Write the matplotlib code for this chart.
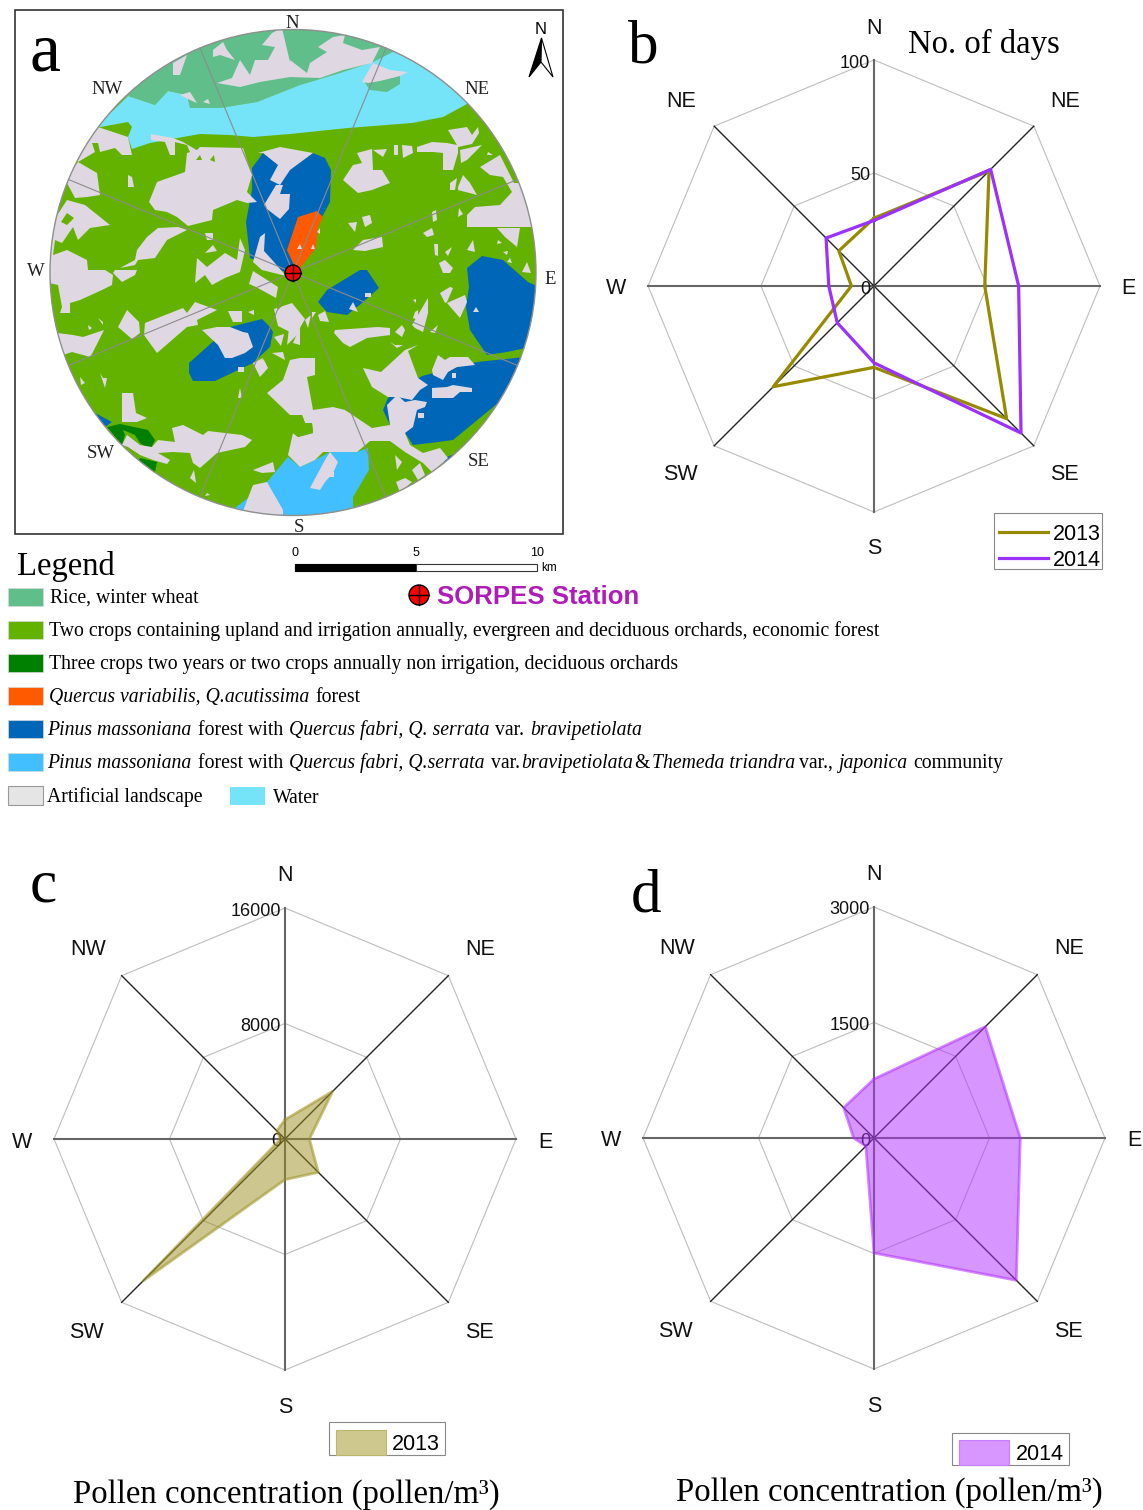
import matplotlib

matplotlib.use("Agg")
import matplotlib.pyplot as plt
import numpy as np
from matplotlib.patches import Circle, Polygon, Rectangle

W, H = 1143, 1510
SERIF = "Liberation Serif"
SANS = "Liberation Sans"

directions = ["N", "NE", "E", "SE", "S", "SW", "W", "NW"]
directions_b = ["N", "NE", "E", "SE", "S", "SW", "W", "NE"]  # the NW corner is labelled NE in the original

days_2013 = [30, 72, 49, 83, 36, 63, 10, 22]
days_2014 = [29, 73, 64, 92, 34, 23, 20, 30]
pollen_2013 = [1340, 4670, 1690, 3265, 2816, 13900, 300, 800]
pollen_2014 = [766, 2045, 1900, 2614, 1494, 150, 264, 557]

c_rice = "#60BE8B"
c_green = "#64B200"
c_dgreen = "#008000"
c_orange = "#FF5A00"
c_blue = "#0066B8"
c_lblue = "#42BFFF"
c_art = "#DFD8E2"
c_water = "#75E3F8"

# map outlines in image pixels
rice_regions = [
    [(100, 110), (128, 96), (155, 105), (168, 91), (187, 95), (190, 108), (220, 108), (257, 102), (300, 85),
     (340, 73), (373, 62), (397, 52), (400, 15), (130, 15)],
]
water_regions = [
    [(128, 96), (155, 105), (168, 91), (187, 95), (190, 108), (220, 108), (257, 102), (300, 85), (340, 73),
     (373, 62), (397, 50), (480, 95), (467, 104), (443, 117), (412, 123), (348, 128), (290, 134), (253, 137),
     (230, 135), (200, 134), (183, 137), (150, 143), (132, 149), (128, 137), (132, 127), (128, 122), (95, 128)],
]
rice_islets = [
    [(365, 83), (370, 90), (387, 92), (400, 84), (400, 72), (370, 72)],
]
blue_regions = [
    [(246, 222), (252, 190), (252, 168), (263, 153), (285, 160), (313, 153), (325, 158), (331, 170), (330, 202),
     (322, 217), (296, 270), (285, 272), (250, 258)],
    [(467, 268), (482, 256), (503, 260), (528, 282), (545, 290), (540, 345), (507, 352), (487, 355), (470, 330),
     (466, 307), (469, 287)],
    [(318, 302), (327, 290), (360, 270), (367, 270), (379, 288), (362, 303), (347, 315), (327, 312)],
    [(422, 376), (477, 362), (525, 357), (510, 383), (498, 403), (453, 440), (430, 443), (413, 445), (405, 433),
     (390, 425), (383, 410), (388, 398)],
    [(189, 363), (217, 338), (230, 327), (262, 319), (270, 327), (273, 332), (270, 347), (253, 363), (215, 381),
     (193, 381), (189, 373)],
    [(95, 413), (112, 422), (105, 427), (88, 420)],
    [(440, 460), (457, 453), (445, 462)],
]
orange_regions = [
    [(287, 250), (298, 217), (317, 211), (323, 217), (318, 227), (316, 248), (300, 268), (294, 265)],
]
lblue_regions = [
    [(267, 482), (288, 457), (300, 467), (315, 460), (330, 452), (357, 452), (368, 448), (369, 470), (353, 497),
     (353, 525), (225, 525), (235, 508), (248, 498)],
]
dgreen_regions = [
    [(107, 427), (120, 424), (148, 430), (155, 440), (150, 450), (140, 443), (135, 435), (123, 430), (125, 435),
     (122, 445)],
    [(140, 458), (157, 462), (155, 472), (135, 465)],
]
art_regions = [
    # rice belt
    [(290, 77), (320, 78), (343, 70), (372, 63), (380, 47), (362, 50), (343, 43), (345, 35), (333, 37), (318, 47),
     (327, 52), (310, 63), (307, 73), (290, 60)],
    [(217, 83), (240, 87), (260, 82), (290, 77), (290, 62), (282, 28), (272, 33), (262, 45), (275, 47), (268, 60),
     (255, 60), (250, 75), (240, 60), (232, 78)],
    [(213, 50), (223, 42), (227, 50), (235, 60), (220, 55), (213, 57)],
    [(173, 63), (187, 55), (180, 75), (173, 75)],
    [(180, 95), (190, 92), (197, 103), (190, 100)],
    [(203, 102), (208, 99), (210, 104)],
    [(362, 82), (373, 63), (390, 70), (408, 72), (400, 76), (380, 81), (368, 83)],
    # north west
    [(98, 127), (128, 137), (132, 155), (122, 155), (115, 148), (100, 152), (98, 143), (92, 143), (95, 152),
     (78, 162), (70, 150), (90, 120)],
    [(62, 185), (67, 183), (75, 198), (87, 197), (100, 195), (97, 173), (78, 162), (68, 175)],
    [(56, 217), (67, 200), (85, 205), (95, 213), (110, 225), (90, 228), (78, 240), (73, 227), (62, 243), (55, 240),
     (52, 263), (45, 275), (40, 220)],
    [(45, 258), (67, 250), (87, 260), (88, 270), (105, 270), (113, 275), (112, 285), (102, 290), (80, 300), (70, 303),
     (70, 313), (60, 313), (62, 307), (58, 285), (45, 282)],
    [(115, 270), (137, 270), (135, 275), (122, 282), (113, 273)],
    [(137, 250), (147, 237), (158, 228), (178, 227), (187, 230), (167, 240), (155, 258), (138, 260), (135, 265),
     (120, 268), (135, 260)],
    [(149, 202), (157, 182), (185, 172), (187, 153), (197, 150), (200, 147), (243, 148), (252, 175), (247, 192),
     (257, 202), (247, 203), (237, 200), (213, 210), (212, 220), (188, 226), (177, 217), (167, 212), (155, 210)],
    [(151, 134), (173, 138), (183, 142), (188, 145), (200, 152), (190, 152), (187, 145), (175, 142), (175, 155),
     (170, 155), (165, 142), (151, 140)],
    [(195, 283), (197, 258), (207, 267), (225, 253), (237, 260), (240, 238), (245, 250), (240, 272), (225, 278),
     (212, 285), (205, 275)],
    [(205, 233), (213, 233), (213, 240), (207, 240)],
    [(205, 253), (217, 251), (213, 245)],
    [(128, 175), (132, 177), (134, 187), (128, 187)],
    # blue forest gaps
    [(258, 153), (280, 147), (313, 153), (290, 170), (280, 185), (270, 180), (278, 165), (263, 153)],
    [(264, 205), (276, 185), (283, 185), (280, 194), (290, 194), (289, 209), (280, 219), (267, 209)],
    [(253, 262), (260, 237), (265, 233), (264, 251), (274, 262), (286, 276), (262, 270)],
    [(249, 284), (253, 271), (278, 287), (276, 298), (256, 287)],
    # east
    [(343, 180), (353, 165), (362, 163), (357, 153), (372, 149), (373, 170), (382, 170), (390, 183), (372, 190),
     (358, 193)],
    [(373, 150), (387, 149), (383, 157)],
    [(394, 145), (398, 145), (398, 155), (394, 155)],
    [(402, 145), (412, 146), (413, 153), (403, 158)],
    [(417, 147), (432, 142), (447, 143), (457, 145), (448, 130), (467, 127), (472, 135), (478, 127), (479, 133),
     (472, 144), (458, 147), (458, 153), (453, 170), (443, 170), (443, 153), (433, 152), (417, 152)],
    [(460, 150), (482, 145), (467, 160), (461, 163)],
    [(480, 167), (500, 155), (514, 183), (525, 183), (540, 217), (540, 227), (493, 227), (467, 227), (467, 215),
     (475, 207), (500, 205), (512, 192), (503, 177), (490, 175)],
    [(497, 228), (505, 237), (517, 247), (520, 228)],
    [(458, 187), (463, 175), (470, 183), (477, 195), (458, 190)],
    [(450, 183), (457, 178), (455, 190), (450, 190)],
    [(362, 217), (370, 215), (372, 223), (365, 227)],
    [(348, 223), (357, 222), (355, 232)],
    [(353, 250), (363, 240), (382, 237), (383, 247), (365, 251)],
    [(423, 233), (432, 228), (434, 235), (427, 237)],
    [(434, 244), (438, 244), (438, 256), (435, 255)],
    [(439, 263), (445, 260), (453, 268), (450, 273), (443, 273)],
    [(445, 252), (452, 247), (448, 256)],
    [(467, 250), (473, 240), (475, 252)],
    [(522, 272), (527, 262), (531, 273)],
    [(432, 212), (436, 210), (437, 220), (433, 222)],
    [(458, 217), (459, 208), (463, 214)],
    [(488, 152), (493, 155), (487, 155)],
    [(503, 252), (508, 251), (507, 255)],
    [(498, 240), (502, 243), (497, 244)],
    [(510, 258), (512, 263), (507, 262)],
    # south east and south
    [(267, 393), (283, 380), (290, 360), (300, 358), (315, 358), (315, 375), (307, 377), (313, 410), (333, 407),
     (345, 410), (372, 428), (390, 425), (387, 405), (397, 395), (405, 402), (415, 400), (427, 402), (425, 407),
     (417, 410), (413, 427), (405, 433), (410, 445), (423, 453), (440, 448), (448, 458), (432, 472), (423, 463),
     (405, 452), (390, 441), (370, 441), (357, 452), (323, 452), (315, 460), (300, 467), (288, 455), (293, 433),
     (298, 437), (313, 433), (312, 423), (305, 423), (302, 415), (290, 415)],
    [(363, 368), (381, 372), (405, 350), (418, 345), (408, 351), (418, 378), (428, 385), (420, 390), (412, 400),
     (397, 397), (388, 397), (372, 387)],
    [(432, 370), (438, 355), (445, 360), (450, 357), (468, 357), (475, 365), (457, 367), (448, 372), (443, 380),
     (433, 375)],
    [(432, 388), (447, 387), (453, 385), (472, 388), (472, 392), (460, 392), (453, 398), (432, 398)],
    [(335, 330), (378, 327), (390, 328), (390, 335), (367, 338), (350, 347), (343, 343), (334, 333)],
    [(395, 332), (402, 325), (405, 330), (402, 337)],
    [(412, 325), (428, 298), (428, 313), (423, 332), (415, 328)],
    [(440, 293), (450, 287), (453, 288), (447, 302), (445, 303)],
    [(447, 303), (465, 295), (467, 302), (460, 318), (453, 310)],
    [(415, 312), (418, 310), (418, 320), (413, 318)],
    [(430, 332), (438, 325), (435, 333)],
    [(390, 342), (395, 345), (403, 345), (397, 348)],
    [(413, 300), (416, 299), (416, 303)],
    [(396, 482), (405, 478), (412, 482), (400, 492)],
    [(395, 455), (402, 462), (397, 470)],
    [(412, 470), (420, 463), (425, 475), (418, 480)],
    # around the station
    [(274, 309), (292, 303), (305, 319), (296, 335), (278, 326)],
    [(272, 353), (283, 352), (285, 360)],
    [(293, 343), (300, 327), (300, 345)],
    [(253, 363), (263, 358), (268, 368), (260, 377)],
    [(312, 312), (316, 312), (312, 318)],
    [(318, 315), (325, 311), (329, 322), (320, 321)],
    [(305, 320), (311, 315), (308, 328)],
    [(274, 337), (284, 334), (281, 346)],
    [(290, 320), (300, 332), (287, 345)],
    # south west
    [(145, 323), (183, 308), (187, 313), (195, 302), (217, 310), (197, 320), (198, 325), (187, 327), (157, 353),
     (144, 335)],
    [(118, 327), (127, 310), (130, 313), (139, 322), (140, 333), (132, 339)],
    [(57, 333), (73, 335), (83, 337), (104, 330), (93, 352), (90, 357), (83, 355), (72, 352), (63, 355)],
    [(228, 311), (242, 311), (242, 322), (233, 322)],
    [(248, 312), (254, 310), (254, 315)],
    [(202, 330), (217, 327), (230, 327), (243, 332), (248, 333), (253, 347), (245, 353), (232, 358), (225, 358),
     (218, 345)],
    [(122, 393), (133, 393), (136, 413), (147, 418), (137, 422), (122, 422)],
    [(172, 428), (183, 425), (203, 435), (208, 431), (242, 435), (252, 440), (245, 447), (217, 453), (200, 468),
     (193, 463), (190, 453), (173, 452), (158, 453), (170, 460), (167, 464), (153, 460), (140, 455), (128, 447),
     (122, 445), (127, 435), (140, 445), (152, 447), (158, 440), (175, 442)],
    [(253, 470), (273, 462), (275, 472), (262, 473)],
    [(243, 511), (253, 485), (267, 482), (283, 510), (283, 520), (240, 518)],
    [(310, 488), (325, 460), (330, 452), (338, 462), (333, 473), (325, 482), (320, 490)],
    [(190, 478), (194, 470), (196, 483)],
    [(100, 373), (103, 378), (107, 378), (105, 388)],
    [(80, 377), (85, 383), (81, 385)],
    [(98, 318), (103, 322), (103, 325)],
    [(88, 325), (92, 328), (89, 330)],
    [(240, 388), (242, 398), (238, 398)],
    [(207, 493), (210, 495), (205, 496)],
]
green_spots = [
    [(61, 222), (67, 213), (74, 218), (67, 225)],
    [(262, 360), (268, 352), (272, 355)],
    [(293, 415), (302, 415), (305, 423), (312, 423), (313, 433), (298, 437), (293, 433)],
    [(196, 160), (200, 155), (202, 160)],
    [(210, 160), (214, 155), (215, 162)],
    [(274, 300), (284, 304), (278, 310)],
]
speck_regions = [
    [(297, 249), (300, 244), (302, 249)],
    [(311, 249), (313, 244), (315, 249)],
    [(317, 232), (320, 228), (320, 234)],
    [(353, 302), (358, 312), (349, 309)],
    [(365, 293), (371, 293), (371, 297), (365, 297)],
    [(238, 367), (244, 367), (244, 372), (238, 372)],
    [(418, 413), (424, 413), (424, 418), (418, 418)],
    [(452, 373), (456, 373), (456, 378), (452, 378)],
    [(328, 472), (334, 472), (334, 477), (328, 477)],
    [(476, 307), (479, 312), (473, 312)],
]

legend_rows = [
    (597, c_rice, [("Rice, winter wheat", 50, "normal")]),
    (630, c_green, [("Two crops containing upland and irrigation annually, evergreen and deciduous orchards, economic forest", 49, "normal")]),
    (663, c_dgreen, [("Three crops two years or two crops annually non irrigation, deciduous orchards", 49, "normal")]),
    (696, c_orange, [("Quercus variabilis, Q.acutissima", 49, "italic"), ("forest", 315, "normal")]),
    (729, c_blue, [("Pinus massoniana", 47, "italic"), ("forest with", 198, "normal"),
                   ("Quercus fabri, Q. serrata", 289, "italic"), ("var.", 495, "normal"),
                   ("bravipetiolata", 530, "italic")]),
    (762, c_lblue, [("Pinus massoniana", 47, "italic"), ("forest with", 198, "normal"),
                    ("Quercus fabri, Q.serrata", 289, "italic"), ("var.", 491, "normal"),
                    ("bravipetiolata", 521, "italic"), ("&", 634, "normal"), ("Themeda triandra", 652, "italic"),
                    ("var.,", 799, "normal"), ("japonica", 838, "italic"), ("community", 913, "normal")]),
]

fig = plt.figure(figsize=(W / 100, H / 100), dpi=100)
bg = fig.add_axes([0, 0, 1, 1])
bg.set_xlim(0, W)
bg.set_ylim(H, 0)
bg.axis("off")


def label(x, y, s, size, family=SERIF, ha="left", va="center", **kw):
    bg.text(x, y + 2, s, fontsize=size, family=family, ha=ha, va=va, **kw)


def station(x, y, r):
    bg.add_patch(Circle((x, y), r, fc="#FF0000", ec="black", lw=1.0, zorder=6))
    bg.plot([x - r, x + r], [y, y], color="black", lw=1.0, zorder=7)
    bg.plot([x, x], [y - r, y + r], color="black", lw=1.0, zorder=7)


# panel a
bg.add_patch(Rectangle((15, 10), 548, 524, fc="white", ec="#333333", lw=1.2))
cx, cy, rad = 293, 272.5, 243
disc = Circle((cx, cy), rad, fc=c_green, ec="none", zorder=1)
bg.add_patch(disc)
layers = [
    (rice_regions, c_rice, 2), (water_regions, c_water, 2), (rice_islets, c_rice, 3), (blue_regions, c_blue, 3),
    (orange_regions, c_orange, 3), (lblue_regions, c_lblue, 3), (dgreen_regions, c_dgreen, 3),
    (art_regions, c_art, 4), (green_spots, c_green, 4.5), (speck_regions, c_art, 4.5),
]
for regions, color, z in layers:
    for pts in regions:
        p = Polygon(pts, closed=True, fc=color, ec="none", zorder=z)
        bg.add_patch(p)
        p.set_clip_path(disc)
for a in np.deg2rad(np.arange(22.5, 360, 45)):
    bg.plot([cx, cx + rad * np.sin(a)], [cy, cy - rad * np.cos(a)], color="#8c8c8c", lw=0.8, zorder=5)
bg.add_patch(Circle((cx, cy), rad, fc="none", ec="#8f8f8f", lw=1.0, zorder=5))
station(293, 273, 8)

for s, x, y in [("N", 292, 22), ("NW", 107, 88), ("NE", 477, 88), ("W", 36, 270), ("E", 550, 278),
                ("SW", 101, 452), ("SE", 479, 459), ("S", 299, 526)]:
    label(x, y, s, 13.5, ha="center", color="#222222", zorder=8)
label(30, 52, "a", 50, zorder=8)

# north arrow
label(541, 27, "N", 12, family=SANS, ha="center")
bg.add_patch(Polygon([(541.5, 38), (529, 77), (541, 62)], fc="black", ec="black", lw=0.8))
bg.add_patch(Polygon([(541.5, 38), (553, 77), (541, 62)], fc="white", ec="black", lw=0.8))

# scale bar
bg.add_patch(Rectangle((295, 564), 121, 7, fc="black", ec="black", lw=0.8))
bg.add_patch(Rectangle((416, 564), 121, 7, fc="white", ec="#333333", lw=0.8))
for s, x in [("0", 295), ("5", 416), ("10", 537)]:
    label(x, 551, s, 9, family=SANS, ha="center")
label(541, 566, "km", 8.5, family=SANS)

# legend block
label(17, 565, "Legend", 23.5)
station(419, 595, 10)
label(437, 595, "SORPES Station", 18.5, family=SANS, weight="bold", color="#B01CB8")
for y, color, runs in legend_rows:
    bg.add_patch(Rectangle((8, y - 9), 35, 18, fc=color, ec="#d8d8d8", lw=0.5))
    for s, x, style in runs:
        label(x, y - 0.5, s, 14.2, style=style)
bg.add_patch(Rectangle((8, 786), 35, 19, fc="#E5E5E5", ec="#999999", lw=0.8))
label(47, 795.5, "Artificial landscape", 14.2)
bg.add_patch(Rectangle((230, 787), 35, 18, fc=c_water, ec="none"))
label(273, 796.5, "Water", 14.2)


def radar(cx, cy, R, rmax, tick_labels, names):
    ax = fig.add_axes([(cx - R) / W, 1 - (cy + R) / H, 2 * R / W, 2 * R / H], projection="polar")
    ax.set_theta_zero_location("N")
    ax.set_theta_direction(-1)
    ax.set_rlim(0, rmax)
    ax.axis("off")
    ax.patch.set_visible(False)
    th = np.deg2rad(np.arange(0, 360, 45))
    ring = np.r_[th, th[0]]
    for r in (rmax / 2, rmax):
        ax.plot(ring, [r] * 9, color="#BDBDBD", lw=0.8, clip_on=False)
    for i, t in enumerate(th):
        if i % 2:
            ax.plot([t, t], [0, rmax], color="#222222", lw=1.0, clip_on=False)
        else:
            ax.plot([t, t], [0, rmax], color="#666666", lw=1.5, clip_on=False)
    for val, s in zip((0, rmax / 2, rmax), tick_labels):
        ax.annotate(s, (0, val), xytext=(-4, -3), textcoords="offset pixels", ha="right", va="center",
                    fontsize=13, family=SANS, color="#111111")
    factors = [1.15, 1.195, 1.14, 1.195, 1.15, 1.195, 1.14, 1.195]
    nudges = [(0, -2), (0, -6), (-3, -3), (-1, 2), (0, -3), (-3, 2), (0, -3), (-2, -6)]
    for t, f, s, off in zip(th, factors, names, nudges):
        ax.annotate(s, (t, rmax * f), xytext=off, textcoords="offset pixels", ha="center", va="center",
                    fontsize=15.5, family=SANS, color="#111111", annotation_clip=False)
    return ax, ring


def closed(vals):
    return list(vals) + [vals[0]]


# panel b
ax_b, ring = radar(874, 286, 226, 100, ["0", "50", "100"], directions_b)
ax_b.plot(ring, closed(days_2013), color="#968A00", lw=2.3, clip_on=False)
ax_b.plot(ring, closed(days_2014), color="#9B30FF", lw=2.3, clip_on=False)
label(628, 46, "b", 44)
label(908, 42, "No. of days", 23.6)
bg.add_patch(Rectangle((994, 513), 108, 56, fc="white", ec="#888888", lw=0.8))
fig_legend = [(532, "#968A00", "2013"), (558, "#9B30FF", "2014")]
for y, color, s in fig_legend:
    bg.plot([999, 1048], [y, y], color=color, lw=2.3)
    label(1053, y, s, 15.5, family=SANS)

# panel c
ax_c, ring = radar(285, 1139, 231, 16000, ["0", "8000", "16000"], directions)
ax_c.fill(ring, closed(pollen_2013), fc="#9C9020", alpha=0.5, ec="none", zorder=3)
ax_c.plot(ring, closed(pollen_2013), color="#9C9020", alpha=0.55, lw=2.0, zorder=3)
label(30, 885, "c", 44)
bg.add_patch(Rectangle((329, 1422), 116, 33, fc="white", ec="#888888", lw=0.8))
bg.add_patch(Rectangle((336, 1430), 50, 25, fc="#CEC88F", ec="#BDB76B", lw=0.8))
label(392, 1443, "2013", 15.5, family=SANS)
label(73, 1493, "Pollen concentration (pollen/m\u00b3)", 23.6)

# panel d
ax_d, ring = radar(874, 1138, 231, 3000, ["0", "1500", "3000"], directions)
ax_d.fill(ring, closed(pollen_2014), fc="#B12DFF", alpha=0.5, ec="none", zorder=3)
ax_d.plot(ring, closed(pollen_2014), color="#B12DFF", alpha=0.55, lw=2.0, zorder=3)
label(631, 895, "d", 44)
bg.add_patch(Rectangle((952, 1433), 117, 32, fc="white", ec="#888888", lw=0.8))
bg.add_patch(Rectangle((959, 1440), 50, 25, fc="#D896FF", ec="#C77DFF", lw=0.8))
label(1016, 1453, "2014", 15.5, family=SANS)
label(676, 1491, "Pollen concentration (pollen/m\u00b3)", 23.6)

fig.savefig("out.png", dpi=100)
